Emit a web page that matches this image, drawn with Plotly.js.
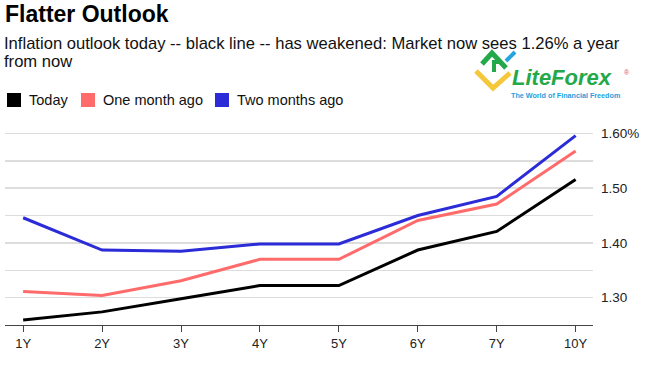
<!DOCTYPE html>
<html>
<head>
<meta charset="utf-8">
<script src="https://cdn.plot.ly/plotly-3.0.1.min.js"></script>
<style>
  html, body { margin: 0; padding: 0; background: #fff; }
  #chart { width: 645px; height: 371px; }
</style>
</head>
<body>
<div id="chart"></div>
<script>
// ---- data ----
const tenors = ['1Y', '2Y', '3Y', '4Y', '5Y', '6Y', '7Y', '10Y'];
const today = [1.259, 1.274, 1.298, 1.322, 1.322, 1.387, 1.421, 1.516];
const oneMonthAgo = [1.311, 1.304, 1.331, 1.370, 1.370, 1.441, 1.471, 1.568];
const twoMonthsAgo = [1.446, 1.387, 1.385, 1.398, 1.398, 1.450, 1.485, 1.596];
const seriesNames = ['Today', 'One month ago', 'Two months ago'];
const yTickVals = [1.30, 1.35, 1.40, 1.45, 1.50, 1.55, 1.60];
const yTickText = ['1.30', '', '1.40', '', '1.50', '', '1.60%'];

const colors = ['#000000', '#ff6b6b', '#2b2bd8'];
const seriesData = [today, oneMonthAgo, twoMonthsAgo];

const FONT = 'Liberation Sans, Arial, Helvetica, sans-serif';
const LOGO_FONT = '"DejaVu Sans", "Liberation Sans", sans-serif';

// plot area geometry (pixels)
const W = 645, H = 371;
const M = { l: 5, r: 52, t: 128, b: 46 };
const pw = W - M.l - M.r, ph = H - M.t - M.b;
function px(x) { return (x - M.l) / pw; }
function py(y) { return (H - M.b - y) / ph; }

const traces = [];
// draw from oldest to newest so black is on top
for (let i = 2; i >= 0; i--) {
  traces.push({
    type: 'scatter', mode: 'lines',
    x: tenors, y: seriesData[i],
    name: seriesNames[i],
    line: { color: colors[i], width: 3 },
    showlegend: false, hoverinfo: 'x+y'
  });
}

const shapes = [];
const annotations = [];

// legend: square swatches + labels
const legendSwatchX = [7, 81, 215];
seriesNames.forEach((name, i) => {
  const x0 = legendSwatchX[i];
  shapes.push({ type: 'rect', xref: 'paper', yref: 'paper',
    x0: px(x0), x1: px(x0 + 14), y0: py(107), y1: py(93),
    fillcolor: colors[i], line: { width: 0 } });
  annotations.push({ xref: 'paper', yref: 'paper', x: px(x0 + 20), y: py(100),
    xanchor: 'left', yanchor: 'middle', text: name, showarrow: false,
    font: { family: FONT, size: 14.5, color: '#111' } });
});

// logo shapes (decorative)
shapes.push(
  { type: 'path', xref: 'paper', yref: 'paper',
    path: `M ${px(476)} ${py(71)} L ${px(493)} ${py(88)} L ${px(510)} ${py(73)}`,
    line: { color: '#f5c73a', width: 5 } },
  { type: 'path', xref: 'paper', yref: 'paper',
    path: `M ${px(482)} ${py(64)} L ${px(492)} ${py(53)} L ${px(506)} ${py(68)}`,
    line: { color: '#23a84a', width: 5 } },
  { type: 'path', xref: 'paper', yref: 'paper',
    path: `M ${px(494)} ${py(72)} L ${px(494)} ${py(62)} L ${px(502)} ${py(62)}`,
    line: { color: '#23a84a', width: 4 } },
  { type: 'line', xref: 'paper', yref: 'paper',
    x0: px(506), y0: py(61), x1: px(515), y1: py(52),
    line: { color: '#27a3e0', width: 4 } }
);

annotations.push(
  { xref: 'paper', yref: 'paper', x: px(2), y: py(32), xanchor: 'left', yanchor: 'top',
    text: 'Inflation outlook today -- black line -- has weakened: Market now sees 1.26% a year',
    showarrow: false, font: { family: FONT, size: 16.6, color: '#111' } },
  { xref: 'paper', yref: 'paper', x: px(2), y: py(50), xanchor: 'left', yanchor: 'top',
    text: 'from now',
    showarrow: false, font: { family: FONT, size: 16.6, color: '#111' } },
  { xref: 'paper', yref: 'paper', x: px(511), y: py(78), xanchor: 'left', yanchor: 'middle',
    text: '<b><i>LiteForex</i></b>', borderpad: 0,
    showarrow: false, font: { family: FONT, size: 22, color: '#23a84a' } },
  { xref: 'paper', yref: 'paper', x: px(623), y: py(72), xanchor: 'left', yanchor: 'middle',
    text: '®', showarrow: false, borderpad: 0, font: { family: FONT, size: 7, color: '#e05050' } },
  { xref: 'paper', yref: 'paper', x: px(510), y: py(95.5), xanchor: 'left', yanchor: 'middle',
    text: '<b>The World of Financial Freedom</b>', borderpad: 0,
    showarrow: false, font: { family: FONT, size: 7.2, color: '#1e9fe0' } }
);

const layout = {
  width: W, height: H,
  margin: M,
  paper_bgcolor: '#ffffff', plot_bgcolor: '#ffffff',
  font: { family: FONT, size: 13, color: '#222' },
  title: {
    text: '<b>Flatter Outlook</b>',
    font: { family: FONT, size: 23, color: '#000' },
    xref: 'container', yref: 'container',
    x: 5 / W, xanchor: 'left', y: 1 - 6 / H, yanchor: 'top'
  },
  showlegend: false,
  xaxis: {
    type: 'category', categoryorder: 'array', categoryarray: tenors,
    range: [-0.23, 7.22], fixedrange: true,
    showgrid: false, zeroline: false,
    showline: true, linecolor: '#444', linewidth: 1,
    ticks: 'outside', ticklen: 6, tickcolor: '#444', tickwidth: 1,
    tickfont: { family: FONT, size: 13, color: '#222' }
  },
  yaxis: {
    side: 'right', range: [1.25, 1.61], fixedrange: true,
    tickvals: yTickVals, ticktext: yTickText,
    showgrid: true, gridcolor: '#dddddd', gridwidth: 1.5,
    zeroline: false, showline: false, ticks: '',
    ticklabelstandoff: 7,
    tickfont: { family: FONT, size: 13.5, color: '#222' }
  },
  shapes: shapes,
  annotations: annotations
};

Plotly.newPlot('chart', traces, layout, { displayModeBar: false, staticPlot: true });
</script>
</body>
</html>
